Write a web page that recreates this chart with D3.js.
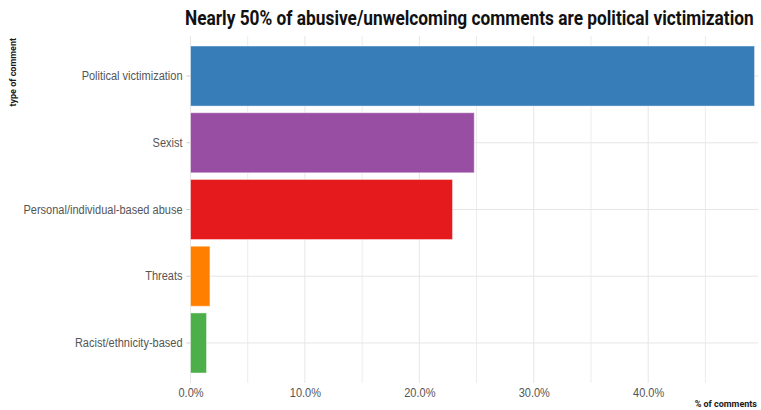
<!DOCTYPE html>
<html>
<head>
<meta charset="utf-8">
<script src="https://cdn.jsdelivr.net/npm/d3@7"></script>
<style>
  body { margin: 0; background: #fff; }
  svg { display: block; font-family: Roboto, "Noto Sans", sans-serif; }
</style>
</head>
<body>
<svg id="chart" width="761" height="410"></svg>
<script>
// Share of abusive / unwelcoming comments by type (percent)
const categories = ["Political victimization", "Sexist", "Personal/individual-based abuse", "Threats", "Racist/ethnicity-based"];
const shares = [49.3, 24.8, 22.9, 1.7, 1.4];
const colors = ["#377EB8", "#984EA3", "#E41A1C", "#FF7F00", "#4DAF4A"];
const majorTicks = [0, 10, 20, 30, 40];
const minorTicks = [5, 15, 25, 35, 45];

const title = "Nearly 50% of abusive/unwelcoming comments are political victimization";
const xTitle = "% of comments";
const yTitle = "type of comment";

const svg = d3.select("#chart");
const margin = { top: 36, right: 3, bottom: 27, left: 190.5 };
const W = 761, H = 410;
const pw = W - margin.left - margin.right;
const ph = H - margin.top - margin.bottom;

const x = d3.scaleLinear().domain([0, 49.6]).range([0, pw]);
const y = d3.scaleBand().domain(categories).range([0, ph]).paddingInner(0.1).paddingOuter(0.15);

const g = svg.append("g").attr("transform", `translate(${margin.left},${margin.top})`);

// narrow the regular-width font to a condensed look
function condense(sel, k) {
  sel.each(function () {
    const len = this.getComputedTextLength();
    d3.select(this).attr("textLength", len * k).attr("lengthAdjust", "spacingAndGlyphs");
  });
}

// grid: minor then major vertical lines, horizontal lines at category centres
g.append("g").selectAll("line").data(minorTicks).join("line")
  .attr("x1", d => x(d)).attr("x2", d => x(d)).attr("y1", 0).attr("y2", ph)
  .attr("stroke", "#ececec").attr("stroke-width", 1);
g.append("g").selectAll("line").data(majorTicks).join("line")
  .attr("x1", d => x(d)).attr("x2", d => x(d)).attr("y1", 0).attr("y2", ph)
  .attr("stroke", "#e6e6e6").attr("stroke-width", 1);
g.append("g").selectAll("line").data(categories).join("line")
  .attr("x1", 0).attr("x2", pw)
  .attr("y1", d => y(d) + y.bandwidth() / 2).attr("y2", d => y(d) + y.bandwidth() / 2)
  .attr("stroke", "#e6e6e6").attr("stroke-width", 1);

// bars
g.append("g").selectAll("rect").data(categories).join("rect")
  .attr("x", x(0))
  .attr("y", d => y(d))
  .attr("width", (d, i) => x(shares[i]) - x(0))
  .attr("height", y.bandwidth())
  .attr("fill", (d, i) => colors[i])
  .attr("stroke", "rgba(255,255,255,0.45)")
  .attr("stroke-width", 1);

// y axis
const yAxis = g.append("g").call(d3.axisLeft(y).tickSize(4).tickPadding(4));
yAxis.select(".domain").remove();
yAxis.selectAll(".tick line").attr("stroke", "#cfcfcf");
yAxis.selectAll(".tick text").attr("fill", "#555").style("font-size", "12.5px").call(condense, 0.88);

// x axis
const xAxis = g.append("g").attr("transform", `translate(0,${ph})`)
  .call(d3.axisBottom(x).tickValues(majorTicks).tickFormat(d => d3.format(".1f")(d) + "%").tickSize(0).tickPadding(5));
xAxis.select(".domain").remove();
xAxis.selectAll(".tick text").attr("fill", "#555").style("font-size", "12.5px").call(condense, 0.88);

// axis titles
svg.append("text")
  .attr("transform", `translate(16,38) rotate(-90)`)
  .attr("text-anchor", "end")
  .style("font-size", "9px").style("font-weight", "bold").attr("fill", "#1a1a1a")
  .text(yTitle);
svg.append("text")
  .attr("x", 757).attr("y", 407)
  .attr("text-anchor", "end")
  .style("font-size", "9px").style("font-weight", "bold").attr("fill", "#1a1a1a")
  .text(xTitle);

// title, squeezed horizontally to a condensed width
const titleText = svg.append("text")
  .style("font-size", "20px").style("font-weight", "bold").attr("fill", "#111")
  .text(title);
const natural = titleText.node().getComputedTextLength();
titleText.attr("transform", `translate(185,25) scale(${569 / natural},1)`);
</script>
</body>
</html>
